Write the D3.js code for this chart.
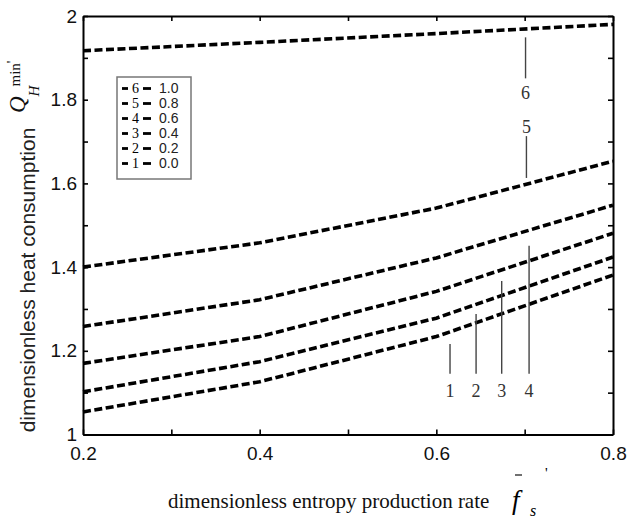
<!DOCTYPE html>
<html>
<head>
<meta charset="utf-8">
<script src="https://cdn.jsdelivr.net/npm/d3@7"></script>
<style>
  body { margin: 0; background: #fff; }
  svg { display: block; }
  .serif { font-family: "Liberation Serif", "Times New Roman", serif; }
  .sans { font-family: "Liberation Sans", Arial, sans-serif; }
</style>
</head>
<body>
<div id="chart"></div>
<script>
// x values where each curve was computed
var xValues = [0.2, 0.4, 0.6, 0.8];

// one array per curve
var curve1 = [1.054, 1.126, 1.234, 1.381];   // 0.0
var curve2 = [1.102, 1.174, 1.278, 1.424];   // 0.2
var curve3 = [1.170, 1.234, 1.342, 1.481];   // 0.4
var curve4 = [1.258, 1.322, 1.422, 1.548];   // 0.6
var curve5 = [1.400, 1.458, 1.541, 1.653];   // 0.8
var curve6 = [1.917, 1.937, 1.958, 1.980];   // 1.0

var curveIds = ["1", "2", "3", "4", "5", "6"];
var curveParams = ["0.0", "0.2", "0.4", "0.6", "0.8", "1.0"];

// tick values / labels
var xTickValues = [0.2, 0.3, 0.4, 0.5, 0.6, 0.7, 0.8];
var xTickLabels = {0.2: "0.2", 0.4: "0.4", 0.6: "0.6", 0.8: "0.8"};
var yTickValues = [1, 1.1, 1.2, 1.3, 1.4, 1.5, 1.6, 1.7, 1.8, 1.9, 2];
var yTickLabels = {1: "1", 1.2: "1.2", 1.4: "1.4", 1.6: "1.6", 1.8: "1.8", 2: "2"};

// curve number callouts: x position, top & bottom of leader line, label y
var calloutIds = ["1", "2", "3", "4", "5", "6"];
var calloutX = [0.6155, 0.645, 0.674, 0.705, 0.702, 0.701];
var calloutTop = [1.216, 1.288, 1.367, 1.451, 1.713, 1.949];
var calloutBottom = [1.145, 1.145, 1.145, 1.145, 1.613, 1.851];
var calloutLabelY = [1.104, 1.104, 1.104, 1.104, 1.735, 1.816];

var margin = {top: 16, right: 21, bottom: 83.5, left: 83},
    width = 634 - margin.left - margin.right,
    height = 518 - margin.top - margin.bottom;

var svg = d3.select("#chart").append("svg")
    .attr("width", 634)
    .attr("height", 518);

var g = svg.append("g")
    .attr("transform", "translate(" + margin.left + "," + margin.top + ")");

var x = d3.scaleLinear().domain([0.2, 0.8]).range([0, width]);
var y = d3.scaleLinear().domain([1, 2]).range([height, 0]);

var curves = [curve1, curve2, curve3, curve4, curve5, curve6];
var series = curves.map(function(vals, i) {
    return {id: curveIds[i], points: vals.map(function(v, j) { return {x: xValues[j], y: v}; })};
});

var line = d3.line()
    .x(function(d) { return x(d.x); })
    .y(function(d) { return y(d.y); });

// curves
g.selectAll(".curve")
    .data(series)
    .enter().append("path")
    .attr("class", "curve")
    .attr("d", function(d) { return line(d.points); })
    .attr("fill", "none")
    .attr("stroke", "#000")
    .attr("stroke-width", 3.6)
    .attr("stroke-dasharray", "8,3.5");

// callouts
calloutIds.forEach(function(id, i) {
    g.append("line")
        .attr("x1", x(calloutX[i])).attr("x2", x(calloutX[i]))
        .attr("y1", y(calloutTop[i])).attr("y2", y(calloutBottom[i]))
        .attr("stroke", "#444")
        .attr("stroke-width", 1.4);
    g.append("text")
        .attr("class", "serif")
        .attr("x", x(calloutX[i]))
        .attr("y", y(calloutLabelY[i]))
        .attr("dy", "0.35em")
        .attr("text-anchor", "middle")
        .attr("font-size", 18)
        .attr("fill", "#333")
        .text(id);
});

// axes, ticks pointing inward on all four sides
function styleAxis(sel) {
    sel.select(".domain").attr("stroke", "#000").attr("stroke-width", 2);
    sel.selectAll(".tick line").attr("stroke", "#000").attr("stroke-width", 1.6);
    sel.selectAll(".tick text")
        .attr("class", "sans")
        .attr("font-family", "Liberation Sans, Arial, sans-serif")
        .attr("font-size", 19)
        .attr("fill", "#111");
}

g.append("g")
    .attr("transform", "translate(0," + height + ")")
    .call(d3.axisBottom(x).tickValues(xTickValues).tickSizeInner(-5).tickSizeOuter(0)
        .tickPadding(12).tickFormat(function(d) { return xTickLabels[d] || ""; }))
    .call(styleAxis);

g.append("g")
    .call(d3.axisTop(x).tickValues(xTickValues).tickSizeInner(-5).tickSizeOuter(0).tickFormat(""))
    .call(styleAxis);

g.append("g")
    .call(d3.axisLeft(y).tickValues(yTickValues).tickSizeInner(-5).tickSizeOuter(0)
        .tickPadding(6).tickFormat(function(d) { return yTickLabels[d] || ""; }))
    .call(styleAxis);

g.append("g")
    .attr("transform", "translate(" + width + ",0)")
    .call(d3.axisRight(y).tickValues(yTickValues).tickSizeInner(-5).tickSizeOuter(0).tickFormat(""))
    .call(styleAxis);

// legend
var legend = svg.append("g").attr("transform", "translate(117,77)");
legend.append("rect")
    .attr("width", 74).attr("height", 102)
    .attr("fill", "#fff")
    .attr("stroke", "#777")
    .attr("stroke-width", 1.5);

var legendOrder = d3.range(curveIds.length).reverse();
legendOrder.forEach(function(idx, row) {
    var cy = 11.5 + row * 15;
    var item = legend.append("g").attr("transform", "translate(0," + cy + ")");
    item.append("line").attr("x1", 5).attr("x2", 11).attr("y1", 0).attr("y2", 0)
        .attr("stroke", "#000").attr("stroke-width", 2.8);
    item.append("line").attr("x1", 26).attr("x2", 34).attr("y1", 0).attr("y2", 0)
        .attr("stroke", "#000").attr("stroke-width", 2.8);
    item.append("text")
        .attr("class", "serif")
        .attr("x", 18.5).attr("dy", "0.35em")
        .attr("text-anchor", "middle")
        .attr("font-size", 14)
        .text(curveIds[idx]);
    item.append("text")
        .attr("class", "sans")
        .attr("x", 42).attr("dy", "0.35em")
        .attr("font-size", 14)
        .attr("fill", "#222")
        .text(curveParams[idx]);
});

// y axis title
svg.append("text")
    .attr("class", "sans")
    .attr("transform", "translate(35,280) rotate(-90)")
    .attr("text-anchor", "middle")
    .attr("font-size", 21)
    .attr("fill", "#222")
    .text("dimensionless heat consumption");

var q = svg.append("text")
    .attr("class", "serif")
    .attr("transform", "translate(25,113) rotate(-90)")
    .attr("fill", "#111");
q.append("tspan").attr("font-style", "italic").attr("font-size", 23).text("Q");
q.append("tspan").attr("font-style", "italic").attr("font-size", 15).attr("dy", 14).text("H");
q.append("tspan").attr("font-size", 15).attr("dy", -19).attr("dx", -1).text("min");
q.append("tspan").attr("font-size", 15).attr("dy", -3).text("'");

// x axis title
svg.append("text")
    .attr("class", "serif")
    .attr("x", 168).attr("y", 508)
    .attr("font-size", 21)
    .attr("fill", "#111")
    .text("dimensionless entropy production rate");

var fs = svg.append("g");
fs.append("text")
    .attr("class", "serif")
    .attr("x", 512).attr("y", 509)
    .attr("font-size", 27)
    .attr("font-style", "italic")
    .text("f");
fs.append("text")
    .attr("class", "serif")
    .attr("x", 530).attr("y", 516)
    .attr("font-size", 16)
    .attr("font-style", "italic")
    .text("s");
fs.append("line")
    .attr("x1", 515).attr("x2", 522).attr("y1", 475).attr("y2", 475)
    .attr("stroke", "#222").attr("stroke-width", 1.3);
fs.append("text")
    .attr("class", "serif")
    .attr("x", 545).attr("y", 478)
    .attr("font-size", 15)
    .text("'");
</script>
</body>
</html>
